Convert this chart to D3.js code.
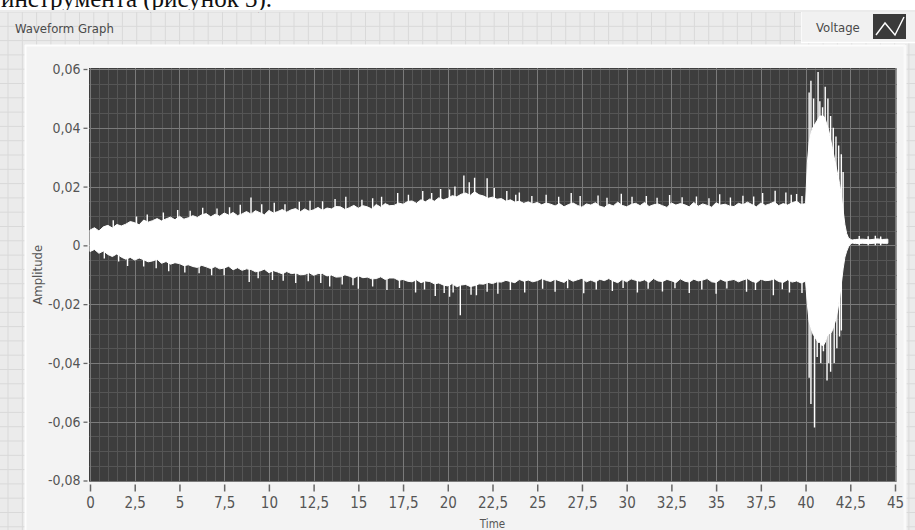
<!DOCTYPE html>
<html><head><meta charset="utf-8">
<script src="https://cdn.jsdelivr.net/npm/d3@7"></script>
<style>
html,body{margin:0;padding:0;background:#fff;}
svg{display:block;}
</style></head><body>
<svg id="c" width="915" height="530"></svg>
<script>
// ---------------- DATA ----------------
const xTickValues = [0,2.5,5,7.5,10,12.5,15,17.5,20,22.5,25,27.5,30,32.5,35,37.5,40,42.5,45];
const xTickLabels = ["0","2,5","5","7,5","10","12,5","15","17,5","20","22,5","25","27,5","30","32,5","35","37,5","40","42,5","45"];
const yTickValues = [0.06,0.04,0.02,0,-0.02,-0.04,-0.06,-0.08];
const yTickLabels = ["0,06","0,04","0,02","0","-0,02","-0,04","-0,06","-0,08"];

// waveform envelope, quiet part: t0 = 0 s, dt = 0.25 s
const quietT0 = 0, quietDt = 0.25;
const quietUpper = [
 .0052,.0060,.0049,.0063, .0068,.0059,.0071,.0066, .0072,.0081,.0077,.0070, .0086,.0079,.0084,.0091,
 .0083,.0090,.0096,.0087, .0099,.0089,.0094,.0101, .0095,.0104,.0108,.0097, .0106,.0099,.0110,.0103,
 .0112,.0101,.0107,.0115, .0106,.0118,.0111,.0104, .0119,.0110,.0115,.0122, .0113,.0121,.0125,.0114,
 .0124,.0116,.0121,.0129, .0119,.0127,.0124,.0132, .0131,.0122,.0128,.0136, .0126,.0135,.0131,.0124,
 .0139,.0130,.0142,.0135, .0136,.0144,.0140,.0149, .0151,.0143,.0155,.0148, .0158,.0150,.0162,.0155,
 .0160,.0169,.0165,.0174, .0178,.0170,.0182,.0172, .0168,.0160,.0164,.0157, .0159,.0150,.0155,.0147,
 .0150,.0143,.0148,.0141, .0146,.0138,.0144,.0140, .0134,.0142,.0131,.0139, .0144,.0136,.0130,.0141,
 .0137,.0145,.0133,.0129, .0140,.0134,.0147,.0136, .0131,.0139,.0143,.0135, .0146,.0132,.0138,.0141,
 .0135,.0129,.0144,.0137, .0142,.0138,.0131,.0146, .0133,.0141,.0136,.0130, .0145,.0137,.0140,.0134,
 .0132,.0143,.0138,.0147, .0139,.0131,.0144,.0136, .0141,.0148,.0135,.0142, .0137,.0145,.0150,.0139,
 .0142];
const quietLower = [
 -.0021,-.0014,-.0027,-.0019, -.0031,-.0038,-.0029,-.0040, -.0047,-.0041,-.0050,-.0043, -.0049,-.0056,-.0053,-.0047,
 -.0061,-.0055,-.0064,-.0059, -.0062,-.0069,-.0066,-.0072, -.0075,-.0068,-.0073,-.0079, -.0072,-.0080,-.0077,-.0071,
 -.0083,-.0076,-.0085,-.0080, -.0082,-.0090,-.0087,-.0081, -.0093,-.0086,-.0091,-.0097, -.0089,-.0096,-.0094,-.0100,
 -.0099,-.0093,-.0102,-.0096, -.0096,-.0104,-.0101,-.0108, -.0107,-.0100,-.0105,-.0111, -.0103,-.0110,-.0108,-.0114,
 -.0113,-.0107,-.0116,-.0111, -.0111,-.0119,-.0116,-.0122, -.0124,-.0117,-.0127,-.0121, -.0123,-.0131,-.0128,-.0135,
 -.0138,-.0130,-.0141,-.0135, -.0133,-.0140,-.0137,-.0131, -.0132,-.0126,-.0130,-.0124, -.0125,-.0119,-.0123,-.0127,
 -.0116,-.0122,-.0118,-.0124, -.0120,-.0113,-.0119,-.0123, -.0115,-.0121,-.0126,-.0114, -.0122,-.0117,-.0112,-.0124,
 -.0118,-.0125,-.0115,-.0120, -.0113,-.0121,-.0127,-.0116, -.0124,-.0114,-.0119,-.0122, -.0117,-.0126,-.0113,-.0121,
 -.0123,-.0116,-.0120,-.0127, -.0114,-.0122,-.0125,-.0115, -.0121,-.0118,-.0113,-.0124, -.0126,-.0115,-.0122,-.0119,
 -.0116,-.0124,-.0118,-.0113, -.0122,-.0127,-.0115,-.0120, -.0119,-.0114,-.0123,-.0126, -.0117,-.0125,-.0121,-.0128,
 -.0122];

// burst part
const burstTime  = [40.1,40.2,40.3,40.4,40.5,40.6,40.7,40.8,40.9,41.0,41.1,41.2,41.3,41.4,41.5,41.6,41.7,41.8,41.9,42.0,42.1,42.2,42.3,42.4,42.5,42.6];
const burstUpper = [.028,.035,.038,.040,.041,.042,.043,.044,.044,.044,.043,.041,.039,.036,.033,.030,.027,.024,.021,.017,.012,.007,.004,.0025,.0021,.0018];
const burstLower = [-.020,-.026,-.028,-.030,-.031,-.032,-.033,-.033,-.034,-.034,-.033,-.031,-.030,-.030,-.029,-.027,-.025,-.022,-.018,-.013,-.008,-.004,-.002,-.0005,.0004,.0008];

// tail (after the burst)
const tailTime  = [42.8,43.2,43.6,44.0,44.3,44.6];
const tailUpper = [.0020,.0021,.0019,.0022,.0020,.0021];
const tailLower = [.0006,.0007,.0006,.0008,.0007,.0007];

// isolated peaks (time, amplitude)
const peakTimes = [1.3,2.6,3.2,4.1,4.9,5.6,6.3,7.1,7.8,8.4,9.0,9.6,10.3,10.9,11.7,12.3,13.0,13.7,14.3,15.2,15.8,16.3,17.2,17.8,18.6,19.1,19.6,20.1,20.4,20.9,21.2,21.5,22.2,22.6,23.3,23.8,24.0,24.7,25.5,26.2,26.9,27.4,28.4,28.9,29.7,30.3,31.1,31.7,32.4,33.1,33.9,34.6,35.2,35.8,36.5,37.1,37.6,38.3,38.9,39.2,39.5,39.8,
  40.2,40.3,40.45,40.7,40.8,40.95,41.1,41.25,41.4,41.55,41.7,41.85,42.0,42.1, 43.0,43.5,43.9,44.2];
const peakValues = [.0085,.0098,.0105,.0112,.0120,.0118,.0128,.0125,.0130,.0138,.0163,.0140,.0145,.0140,.0148,.0152,.0150,.0158,.0165,.0155,.0160,.0165,.0178,.0172,.0185,.0178,.0192,.0190,.0200,.0238,.0215,.0230,.0228,.0195,.0185,.0172,.0180,.0168,.0172,.0165,.0178,.0168,.0170,.0162,.0176,.0165,.0168,.0162,.0171,.0164,.0166,.0160,.0174,.0163,.0169,.0166,.0178,.0186,.0180,.0172,.0175,.0168,
  .052,.056,.050,.059,.049,.047,.054,.050,.044,.040,.037,.034,.031,.025, .0032,.0031,.0033,.0030];
const troughTimes = [0.8,1.6,2.1,3.0,3.7,4.4,5.3,6.1,6.8,7.5,8.9,9.4,10.2,10.8,11.5,12.2,12.9,13.4,14.1,14.7,15.0,15.8,16.6,17.3,18.2,18.7,19.3,19.8,20.1,20.3,20.7,21.3,21.6,22.2,22.8,23.5,24.3,25.3,26.0,26.7,27.6,28.3,29.2,29.8,30.6,31.2,32.0,32.7,33.5,34.2,35.0,35.6,36.7,37.2,38.2,38.7,39.1,39.8,
  40.2,40.3,40.5,40.65,40.85,41.0,41.2,41.3,41.4,41.6,41.75,41.9,42.0];
const troughValues = [-.0045,-.0055,-.0070,-.0072,-.0078,-.0088,-.0092,-.0095,-.0102,-.0102,-.0125,-.0112,-.0118,-.0120,-.0128,-.0122,-.0128,-.0140,-.0133,-.0136,-.0148,-.0140,-.0152,-.0145,-.0160,-.0150,-.0172,-.0162,-.0175,-.0160,-.0238,-.0168,-.0170,-.0158,-.0165,-.0152,-.0160,-.0148,-.0158,-.0146,-.0163,-.0150,-.0155,-.0145,-.0160,-.0148,-.0157,-.0146,-.0162,-.0150,-.0165,-.0147,-.0158,-.0152,-.0170,-.0149,-.0160,-.0162,
  -.045,-.054,-.062,-.038,-.040,-.036,-.046,-.040,-.043,-.040,-.035,-.031,-.029];

// ---------------- DRAW ----------------
const W = 915, H = 530;
const svg = d3.select("#c");
const FONT = "'DejaVu Sans Condensed','Liberation Sans Narrow','DejaVu Sans',sans-serif";

svg.append("rect").attr("x",0).attr("y",0).attr("width",W).attr("height",H).attr("fill","#fff");
// LabVIEW panel background with grid
const panel = svg.append("g");
panel.append("rect").attr("x",0).attr("y",10).attr("width",W).attr("height",H-10).attr("fill","#ebebeb");
const gridStep = 14.3;
const gx = d3.range(8, W, gridStep), gy = d3.range(12, H, gridStep);
panel.selectAll("line.gv").data(gx).join("line")
  .attr("x1",d=>d).attr("x2",d=>d).attr("y1",10).attr("y2",H)
  .attr("stroke","#d9d9d9").attr("stroke-width",1);
panel.selectAll("line.gh").data(gy).join("line")
  .attr("x1",0).attr("x2",W).attr("y1",d=>d).attr("y2",d=>d)
  .attr("stroke","#d9d9d9").attr("stroke-width",1);

// document text above the screenshot (cropped at the top in the reference)
svg.append("text").attr("x",1).attr("y",7)
  .attr("font-family","'Liberation Serif','Times New Roman',serif").attr("font-size",25)
  .attr("fill","#111").text("инструмента (рисунок 3).");
svg.append("rect").attr("x",0).attr("y",10).attr("width",W).attr("height",2).attr("fill","#ebebeb");

// title
svg.append("text").attr("x",15).attr("y",33).attr("font-family",FONT).attr("font-size",13)
  .attr("fill","#4a4a4a").text("Waveform Graph");

// legend
const lg = svg.append("g");
lg.append("rect").attr("x",801).attr("y",12).attr("width",114).attr("height",30).attr("fill","#f1f1f1");
lg.append("line").attr("x1",801).attr("x2",915).attr("y1",42.5).attr("y2",42.5).attr("stroke","#fff").attr("stroke-width",1.5);
lg.append("line").attr("x1",801.5).attr("x2",801.5).attr("y1",12).attr("y2",42).attr("stroke","#fafafa");
lg.append("text").attr("x",816).attr("y",32).attr("font-family",FONT).attr("font-size",13)
  .attr("fill","#4a4a4a").text("Voltage");
lg.append("rect").attr("x",873).attr("y",14).attr("width",33).attr("height",25).attr("fill","#3a3a3a");
lg.append("polyline").attr("points","876,35 885,23 895,35 904,17")
  .attr("fill","none").attr("stroke","#fff").attr("stroke-width",1.4);

// graph frame
svg.append("rect").attr("x",25).attr("y",45).attr("width",880).attr("height",H-45).attr("fill","#f3f3f3");
svg.append("line").attr("x1",25).attr("x2",905).attr("y1",45.5).attr("y2",45.5).attr("stroke","#fdfdfd").attr("stroke-width",2);
svg.append("line").attr("x1",25.5).attr("x2",25.5).attr("y1",45).attr("y2",H).attr("stroke","#fdfdfd").attr("stroke-width",2);
svg.append("line").attr("x1",905).attr("x2",905).attr("y1",45).attr("y2",H).attr("stroke","#fafafa").attr("stroke-width",3);

// scales
const x = d3.scaleLinear().domain([0,45]).range([90,895]);
const y = d3.scaleLinear().domain([-0.08,0.06]).range([480.5,69]);
const plotL = 89, plotR = 896.5, plotT = 68, plotB = 481.5;

// plot area
svg.append("rect").attr("x",plotL).attr("y",plotT).attr("width",plotR-plotL).attr("height",plotB-plotT).attr("fill","#3d3d3d");

const grid = svg.append("g");
const minorX = d3.range(0, 45.01, 0.5).filter(v => Math.abs(v/2.5 - Math.round(v/2.5)) > 1e-6);
const minorY = d3.range(-0.08, 0.0601, 0.005).filter(v => Math.abs(v/0.02 - Math.round(v/0.02)) > 1e-6);
grid.selectAll("line.mx").data(minorX).join("line")
  .attr("x1",d=>Math.round(x(d))+0.5).attr("x2",d=>Math.round(x(d))+0.5).attr("y1",plotT).attr("y2",plotB)
  .attr("stroke","#555").attr("stroke-width",1);
grid.selectAll("line.my").data(minorY).join("line")
  .attr("y1",d=>Math.round(y(d))+0.5).attr("y2",d=>Math.round(y(d))+0.5).attr("x1",plotL).attr("x2",plotR)
  .attr("stroke","#555").attr("stroke-width",1);
grid.selectAll("line.Mx").data(xTickValues).join("line")
  .attr("x1",d=>Math.round(x(d))+0.5).attr("x2",d=>Math.round(x(d))+0.5).attr("y1",plotT).attr("y2",plotB)
  .attr("stroke","#7a7a7a").attr("stroke-width",1);
grid.selectAll("line.My").data(yTickValues).join("line")
  .attr("y1",d=>Math.round(y(d))+0.5).attr("y2",d=>Math.round(y(d))+0.5).attr("x1",plotL).attr("x2",plotR)
  .attr("stroke","#7a7a7a").attr("stroke-width",1);

// waveform data assembled
const pts = quietUpper.map((v,i)=>({t: quietT0 + i*quietDt, hi: v, lo: quietLower[i]}))
  .concat(burstTime.map((t,i)=>({t, hi: burstUpper[i], lo: burstLower[i]})))
  .concat(tailTime.map((t,i)=>({t, hi: tailUpper[i], lo: tailLower[i]})));

svg.append("clipPath").attr("id","pc").append("rect")
  .attr("x",plotL).attr("y",plotT).attr("width",plotR-plotL).attr("height",plotB-plotT);
const wave = svg.append("g").attr("clip-path","url(#pc)");
const area = d3.area().x(d=>x(d.t)).y0(d=>y(d.lo)).y1(d=>y(d.hi)).curve(d3.curveLinear);

wave.selectAll("line.pk").data(peakTimes).join("line")
  .attr("x1",d=>x(d)).attr("x2",d=>x(d)).attr("y1",y(0)).attr("y2",(d,i)=>y(peakValues[i]))
  .attr("stroke","#fff").attr("stroke-width",1.4);
wave.selectAll("line.tr").data(troughTimes).join("line")
  .attr("x1",d=>x(d)).attr("x2",d=>x(d)).attr("y1",y(0)).attr("y2",(d,i)=>y(troughValues[i]))
  .attr("stroke","#fff").attr("stroke-width",1.4);
wave.append("path").datum(pts).attr("d",area).attr("fill","#fff").attr("stroke","#fff").attr("stroke-width",1);

// axes
const yAxis = d3.axisLeft(y).tickValues(yTickValues).tickFormat((d,i)=>yTickLabels[i]).tickSize(4).tickPadding(3);
const ya = svg.append("g").attr("transform",`translate(${plotL-1.5},0)`).call(yAxis);
ya.select(".domain").remove();
ya.selectAll(".tick line").attr("stroke","#666").attr("stroke-width",1.3);
ya.selectAll(".tick text").attr("font-family",FONT).attr("font-size",14).attr("fill","#555");

const xAxis = d3.axisBottom(x).tickValues(xTickValues).tickFormat((d,i)=>xTickLabels[i]).tickSize(7).tickPadding(6);
const xa = svg.append("g").attr("transform",`translate(0,${plotB+3})`).call(xAxis);
xa.select(".domain").remove();
xa.selectAll(".tick line").attr("stroke","#666").attr("stroke-width",1.5);
xa.selectAll(".tick text").attr("font-family",FONT).attr("font-size",15).attr("fill","#555");

svg.append("text").attr("x",x(22.5)).attr("y",528).attr("text-anchor","middle")
  .attr("font-family",FONT).attr("font-size",11.5).attr("fill","#555").text("Time");
svg.append("text").attr("transform",`translate(42,${(plotT+plotB)/2}) rotate(-90)`).attr("text-anchor","middle")
  .attr("font-family",FONT).attr("font-size",13).attr("fill","#555").text("Amplitude");
</script>
</body></html>
